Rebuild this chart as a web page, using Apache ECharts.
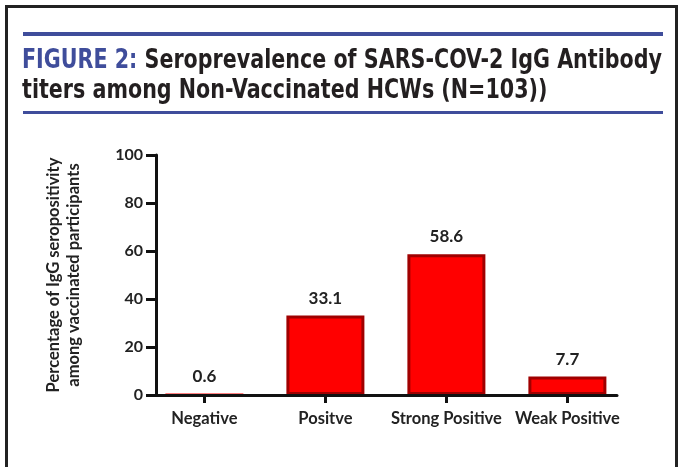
<!DOCTYPE html>
<html>
<head>
<meta charset="utf-8">
<script src="https://cdn.jsdelivr.net/npm/echarts@6/dist/echarts.min.js"></script>
<style>
  html, body { margin: 0; padding: 0; background: #fff; }
  #chart { width: 680px; height: 467px; }
</style>
</head>
<body>
<div id="chart"></div>
<script>
// categories and values
var categories = ["Negative", "Positve", "Strong Positive", "Weak Positive"];
var percentValues = [0.6, 33.1, 58.6, 7.7];
var yTicks = [0, 20, 40, 60, 80, 100];

var chart = echarts.init(document.getElementById("chart"));

var barData = [];
for (var i = 0; i < percentValues.length; i++) {
  var item = { value: [i, percentValues[i]] };
  // very small bars sit under the thick axis line, no outline
  if (percentValues[i] < 1) item.itemStyle = { borderWidth: 0 };
  barData.push(item);
}
var catPositions = categories.map(function (c, i) { return i; });

var labelFont = "Lato, 'Liberation Sans', Arial, sans-serif";
var titleFont = "'DejaVu Sans Condensed', 'Liberation Sans', sans-serif";
var titleSize = 26;
var titleLine1a = "FIGURE 2:";
var titleLine1b = " Seroprevalence of SARS-COV-2 IgG Antibody";
var titleLine2 = "titers among Non-Vaccinated HCWs (N=103))";

// squeeze title so it fits the 640px column (no condensed face available)
var ctx = document.createElement("canvas").getContext("2d");
ctx.font = "bold " + titleSize + "px " + titleFont;
var line1Width = ctx.measureText(titleLine1a + titleLine1b).width;
var titleScale = Math.min(1, 640 / line1Width);

chart.setOption({
  backgroundColor: "#fff",
  animation: false,
  graphic: [
    // outer frame
    { type: "rect", shape: { x: 6.5, y: 6.5, width: 670, height: 500 }, style: { fill: null, stroke: "#222", lineWidth: 3 } },
    // blue rules above / below the title
    { type: "line", shape: { x1: 23, y1: 34, x2: 663, y2: 34 }, style: { stroke: "#3f4d9b", lineWidth: 4 } },
    { type: "line", shape: { x1: 23, y1: 112.5, x2: 663, y2: 112.5 }, style: { stroke: "#3f4d9b", lineWidth: 3 } },
    {
      type: "text",
      x: 22,
      y: 46,
      scaleX: titleScale,
      style: {
        text: "{a|" + titleLine1a + "}{b|" + titleLine1b + "}\n{b|" + titleLine2 + "}",
        rich: {
          a: { fontFamily: titleFont, fontSize: titleSize, fontWeight: "bold", fill: "#3f4d9b", lineHeight: 30 },
          b: { fontFamily: titleFont, fontSize: titleSize, fontWeight: "bold", fill: "#231f20", lineHeight: 30 }
        }
      }
    }
  ],
  grid: {
    left: 156,
    right: 63,
    top: 155,
    bottom: 72
  },
  xAxis: {
    type: "value",
    min: -0.4,
    max: 3.41,
    z: 5,
    splitLine: { show: false },
    axisLine: { show: true, onZero: false, lineStyle: { color: "#111", width: 3 } },
    axisTick: {
      show: true,
      customValues: catPositions,
      length: 8,
      lineStyle: { color: "#111", width: 3 }
    },
    axisLabel: {
      customValues: catPositions,
      margin: 15,
      fontFamily: labelFont,
      fontWeight: "bold",
      fontSize: 16.5,
      color: "#222",
      formatter: function (v) { return categories[Math.round(v)]; }
    }
  },
  yAxis: {
    type: "value",
    min: 0,
    max: 100,
    interval: 20,
    z: 5,
    name: "Percentage of IgG seropositivity\namong vaccinated participants",
    nameLocation: "middle",
    nameGap: 72,
    nameTextStyle: {
      fontFamily: labelFont,
      fontWeight: "bold",
      fontSize: 16.5,
      lineHeight: 20,
      color: "#222"
    },
    splitLine: { show: false },
    axisLine: { show: true, onZero: false, lineStyle: { color: "#111", width: 3 } },
    axisTick: { show: true, length: 10, lineStyle: { color: "#111", width: 3 } },
    axisLabel: {
      margin: 13,
      fontFamily: labelFont,
      fontWeight: "bold",
      fontSize: 16,
      color: "#222",
      customValues: yTicks
    }
  },
  series: [
    {
      type: "bar",
      data: barData,
      barWidth: 78,
      itemStyle: {
        color: "#ff0000",
        borderColor: "#a00000",
        borderWidth: 3
      },
      label: {
        show: true,
        position: "top",
        distance: 9,
        fontFamily: labelFont,
        fontWeight: "bold",
        fontSize: 17,
        color: "#222",
        formatter: function (p) { return p.value[1].toFixed(1); }
      }
    }
  ]
});
</script>
</body>
</html>
